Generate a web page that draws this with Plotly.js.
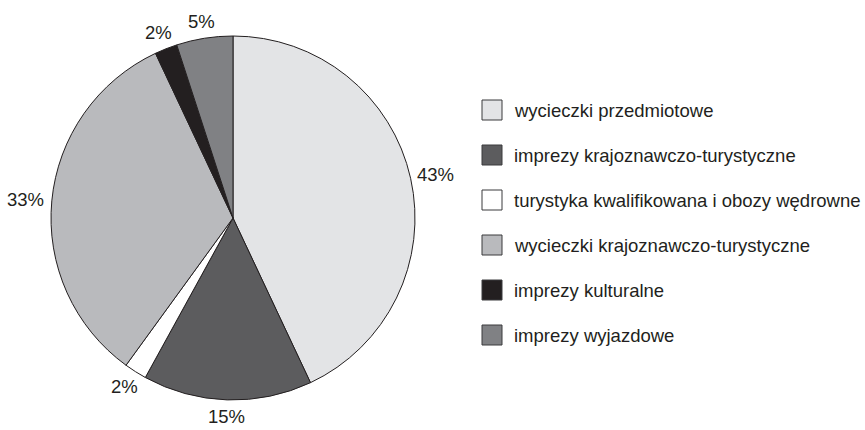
<!DOCTYPE html>
<html>
<head>
<meta charset="utf-8">
<script src="https://cdn.plot.ly/plotly-3.0.1.min.js"></script>
<style>html,body{margin:0;padding:0;background:#fff;}#chart{width:865px;height:430px;}</style>
</head>
<body>
<div id="chart"></div>
<script>
const categories = [
  "wycieczki przedmiotowe",
  "imprezy krajoznawczo-turystyczne",
  "turystyka kwalifikowana i obozy wędrowne",
  "wycieczki krajoznawczo-turystyczne",
  "imprezy kulturalne",
  "imprezy wyjazdowe"
];
const shares = [43, 15, 2, 33, 2, 5];
const sliceLabels = ["43%", "15%", "2%", "33%", "2%", "5%"];
const colors = ["#e3e4e6", "#5c5c5e", "#ffffff", "#b9babd", "#231f20", "#808184"];

const FONT = "'Liberation Sans', Arial, Helvetica, sans-serif";
const FS = 18.5;
const W = 865, H = 430;
const cx = 233, cy = 218, R = 182;

const trace = {
  type: "pie",
  labels: categories,
  values: shares,
  textinfo: "none",
  sort: false,
  direction: "clockwise",
  rotation: 0,
  marker: {colors: colors, line: {color: "#231f20", width: 1}},
  domain: {x: [(cx - R) / W, (cx + R) / W], y: [(H - cy - R) / H, (H - cy + R) / H]},
  showlegend: false,
  hoverinfo: "label+percent"
};

const shapes = [];
const annotations = [];

// percentage labels outside the slices, placed from the data (mid-angle of each slice)
const total = shares.reduce((a, b) => a + b, 0);
let cum = 0;
shares.forEach((v, i) => {
  const mid = (cum + v / 2) / total * 2 * Math.PI;
  cum += v;
  const dx = Math.sin(mid), dy = -Math.cos(mid);
  const halfW = sliceLabels[i].length * 6, halfH = 9;
  const px = cx + dx * (R + 8) + dx * halfW;
  const py = cy + dy * (R + 8) + dy * halfH;
  annotations.push({
    xref: "paper", yref: "paper", x: px / W, y: (H - py) / H,
    xanchor: "center", yanchor: "middle", showarrow: false,
    text: sliceLabels[i], font: {family: FONT, size: FS, color: "#231f20"}
  });
});

// legend
const legX = 482, legBox = 20, legY0 = 110, legStep = 45;
categories.forEach((c, i) => {
  const y = legY0 + i * legStep;
  shapes.push({
    type: "rect", xref: "paper", yref: "paper",
    x0: legX / W, x1: (legX + legBox) / W,
    y0: (H - (y - legBox / 2)) / H, y1: (H - (y + legBox / 2)) / H,
    fillcolor: colors[i], line: {color: "#3a3a3c", width: 1}
  });
  annotations.push({
    xref: "paper", yref: "paper", x: 512 / W, y: (H - y) / H,
    xanchor: "left", yanchor: "middle", showarrow: false,
    text: c, font: {family: FONT, size: FS, color: "#231f20"}
  });
});

const layout = {
  width: W, height: H,
  margin: {l: 0, r: 0, t: 0, b: 0},
  paper_bgcolor: "#ffffff",
  plot_bgcolor: "#ffffff",
  showlegend: false,
  shapes: shapes,
  annotations: annotations,
  font: {family: FONT}
};

Plotly.newPlot("chart", [trace], layout, {displayModeBar: false, staticPlot: true});
</script>
</body>
</html>
